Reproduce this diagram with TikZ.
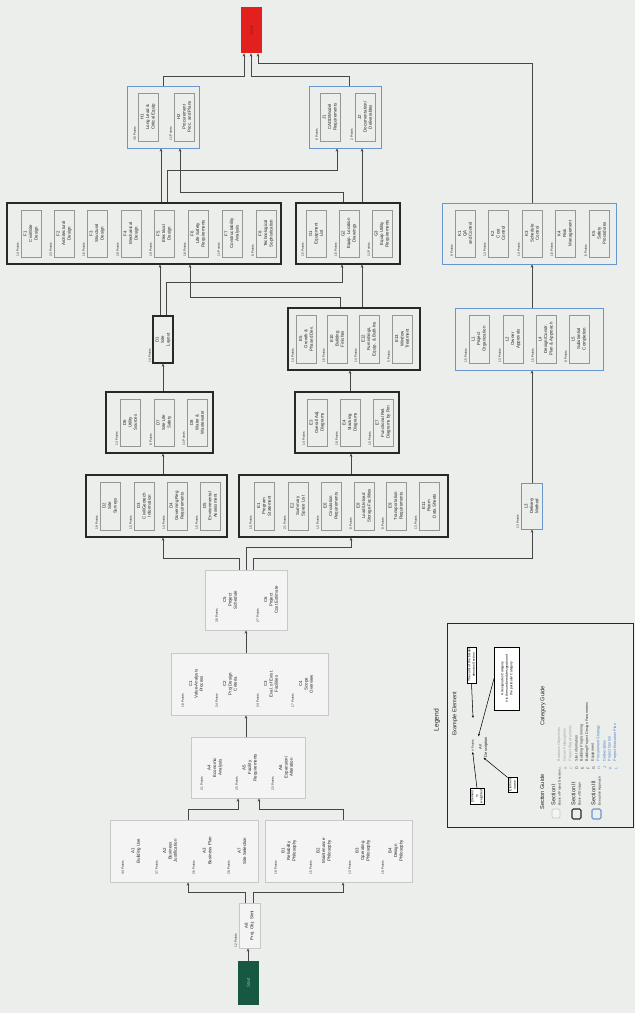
\documentclass[tikz,border=0pt]{standalone}
\usepackage{fontspec}
\setmainfont{Liberation Sans}
\usetikzlibrary{arrows.meta,fit}
\definecolor{bgc}{RGB}{236,238,236}
\definecolor{secIc}{RGB}{200,200,200}
\definecolor{secIf}{RGB}{243,244,243}
\definecolor{secIIc}{RGB}{40,40,40}
\definecolor{secIIIc}{RGB}{105,150,205}
\definecolor{innc}{RGB}{150,150,150}
\definecolor{linec}{RGB}{70,70,70}
\definecolor{txtc}{RGB}{35,35,35}
\definecolor{startc}{RGB}{22,88,66}
\definecolor{startt}{RGB}{120,190,150}
\definecolor{endc}{RGB}{226,32,30}
\definecolor{endt}{RGB}{150,20,20}
\definecolor{catI}{RGB}{160,160,160}
\definecolor{catII}{RGB}{60,60,60}
\definecolor{catIII}{RGB}{70,125,200}
\tikzset{
  lbl/.style={rotate=90, align=center, inner sep=0.3pt, text=txtc, font=\fontsize{3.3}{4.1}\selectfont},
  pts/.style={rotate=90, inner sep=0.3pt, text=txtc, font=\fontsize{2.4}{2.8}\selectfont},
  innerbox/.style={draw=innc, line width=0.3pt},
  nobox/.style={draw=none},
  secI/.style={draw=secIc, fill=secIf, line width=0.5pt, inner sep=0pt},
  secII/.style={draw=secIIc, line width=0.8pt, inner sep=0pt},
  secIII/.style={draw=secIIIc, line width=0.6pt, inner sep=0pt},
  arr/.style={draw=linec, line width=0.45pt, -{Stealth[length=2.4pt,width=2pt]}},
  larr/.style={draw=black, line width=0.4pt, -{Stealth[length=2pt,width=1.6pt]}},
  callout/.style={rotate=90, draw=black, line width=0.5pt, fill=white, align=center, inner sep=0.8pt, font=\fontsize{2.5}{3.3}\selectfont},
  ttl/.style={rotate=90, text=txtc, inner sep=0.3pt, font=\fontsize{4.2}{5}\selectfont},
  cat/.style={rotate=90, inner sep=0.2pt, font=\fontsize{2.8}{3.2}\selectfont},
}
\newcommand{\elem}[7]{%
  \draw[#1] (#2+4,#3) rectangle (#2+24,#4);
  \node[pts, anchor=south west] (#6p) at (#2+2.5,#4) {#5 Points};
  \node[lbl] (#6) at (#2+14,{(#3+#4)/2}) {#6\\#7};
}
\begin{document}
\begin{tikzpicture}[x=0.75pt, y=-0.75pt]
\fill[bgc] (0,0) rectangle (635,1013);
\useasboundingbox (0,0) rectangle (635,1013);

% ---------- outer boxes ----------
\node[fill=startc, inner sep=0pt, fit={(238,961) (259,1005)}] (start) {};
\node[rotate=90, text=startt, font=\fontsize{3.5}{4}\selectfont] (startl) at (start) {Start};
\node[fill=endc, inner sep=0pt, fit={(241,7) (262,53)}] (endbox) {};
\node[rotate=90, text=endt, font=\fontsize{3.5}{4}\selectfont] (endl) at (endbox) {End};

\node[secI, fit={(239,903) (260,948)}] (A8box) {};
\node[secI, fit={(110,820) (258,882)}] (Abox) {};
\node[secI, fit={(265,820) (412,882)}] (Bbox) {};
\node[secI, fit={(191,737) (305,798)}] (ABbox) {};
\node[secI, fit={(171,653) (328,715)}] (Cbox) {};
\node[secI, fit={(205,570) (287,630)}] (C5box) {};

\node[secII, fit={(86,475) (227,537)}] (D2box) {};
\node[secII, fit={(239,475) (448,537)}] (E1box) {};
\node[secII, fit={(106,392) (213,453)}] (D6box) {};
\node[secII, fit={(295,392) (399,453)}] (E3box) {};
\node[secII, fit={(153,316) (173,363)}] (D1box) {};
\node[secII, fit={(288,308) (420,370)}] (E5box) {};
\node[secII, fit={(7,203) (281,264)}] (Fbox) {};
\node[secII, fit={(296,203) (400,264)}] (Gbox) {};

\node[secIII, fit={(521,483) (542,529)}] (L3box) {};
\node[secIII, fit={(455,308) (603,370)}] (Lbox) {};
\node[secIII, fit={(442,203) (616,264)}] (Kbox) {};
\node[secIII, fit={(127,86) (199,148)}] (Hbox) {};
\node[secIII, fit={(309,86) (381,148)}] (Jbox) {};

% ---------- single elements ----------
\node[lbl] (A8) at (249.5,925.5) {A8\\Proj. Obj. Stmt};
\node[pts, anchor=south west] (A8p) at (237.5,948) {12 Points};
\node[lbl] (D1) at (163,339.5) {D1\\Site\\Layout};
\node[pts, anchor=south west] (D1p) at (151.5,363) {14 Points};
\node[lbl] (L3) at (531.5,506) {L3\\Delivery\\Method};
\node[pts, anchor=south west] (L3p) at (519.5,529) {13 Points};

% ---------- Section I ----------
\elem{nobox}{122}{827}{875}{44}{A1}{Building Use}
\elem{nobox}{156}{827}{875}{37}{A2}{Business\\Justification}
\elem{nobox}{193}{827}{875}{26}{A3}{Business Plan}
\elem{nobox}{228}{827}{875}{28}{A7}{Site Selection}
\elem{nobox}{275}{827}{875}{18}{B1}{Reliability\\Philosophy}
\elem{nobox}{310}{827}{875}{15}{B2}{Maintenance\\Philosophy}
\elem{nobox}{349}{827}{875}{13}{B3}{Operating\\Philosophy}
\elem{nobox}{382}{827}{875}{18}{B4}{Design\\Philosophy}
\elem{nobox}{201}{744}{791}{21}{A4}{Economic\\Analysis}
\elem{nobox}{236}{744}{791}{25}{A5}{Facility\\Requirements}
\elem{nobox}{272}{744}{791}{23}{A6}{Expansion/\\Alteration}
\elem{nobox}{182}{660}{708}{18}{C1}{Value-Analysis\\Process}
\elem{nobox}{216}{660}{708}{24}{C2}{Proj Design\\Criteria}
\elem{nobox}{257}{660}{708}{24}{C3}{Eval. of Exist.\\Facilities}
\elem{nobox}{292}{660}{708}{17}{C4}{Scope\\Overview}
\elem{nobox}{216}{577}{623}{30}{C5}{Project\\Schedule}
\elem{nobox}{257}{577}{623}{27}{C6}{Project\\Cost Estimate}

% ---------- Section II ----------
\elem{innerbox}{96}{482}{530}{18}{D2}{Site\\Surveys}
\elem{innerbox}{130}{482}{530}{15}{D3}{Civil/Geotech\\Information}
\elem{innerbox}{163}{482}{530}{14}{D4}{Governing Reg\\Requirements}
\elem{innerbox}{196}{482}{530}{16}{D5}{Environmental\\Assessment}
\elem{innerbox}{250}{482}{530}{16}{E1}{Program\\Statement}
\elem{innerbox}{284}{482}{530}{21}{E2}{Summary\\Space List}
\elem{innerbox}{317}{482}{530}{12}{E6}{Circulation\\Requirements}
\elem{innerbox}{350}{482}{530}{8}{E8}{Load/Unload\\Storage Facilities}
\elem{innerbox}{382}{482}{530}{8}{E9}{Transportation\\Requirements}
\elem{innerbox}{415}{482}{530}{13}{E11}{Room\\Data Sheets}
\elem{innerbox}{116}{399}{446}{13}{D6}{Utility\\Sources}
\elem{innerbox}{150}{399}{446}{8}{D7}{Site Life\\Safety}
\elem{innerbox}{183}{399}{446}{11}{D8}{Water \&\\Wastewater}
\elem{innerbox}{303}{399}{446}{14}{E3}{Overall Adj.\\Diagrams}
\elem{innerbox}{336}{399}{446}{10}{E4}{Stacking\\Diagrams}
\elem{innerbox}{369}{399}{446}{15}{E7}{Functional Rel.\\Diagrams by Rm}
\elem{innerbox}{292}{315}{363}{14}{E5}{Growth \&\\Phased Dev.}
\elem{innerbox}{323}{315}{363}{16}{E10}{Building\\Finishes}
\elem{innerbox}{355}{315}{363}{14}{E12}{Furnishings,\\Equip. \& Built-Ins}
\elem{innerbox}{388}{315}{363}{5}{E13}{Window\\Treatment}
\elem{innerbox}{17}{210}{257}{14}{F1}{Civil/Site\\Design}
\elem{innerbox}{50}{210}{257}{23}{F2}{Architectural\\Design}
\elem{innerbox}{83}{210}{257}{16}{F3}{Structural\\Design}
\elem{innerbox}{117}{210}{257}{20}{F4}{Mechanical\\Design}
\elem{innerbox}{150}{210}{257}{18}{F5}{Electrical\\Design}
\elem{innerbox}{184}{210}{257}{18}{F6}{Life Safety\\Requirements}
\elem{innerbox}{218}{210}{257}{11}{F7}{Constructability\\Analysis}
\elem{innerbox}{252}{210}{257}{8}{F8}{Technological\\Sophistication}
\elem{innerbox}{302}{210}{257}{15}{G1}{Equipment\\List}
\elem{innerbox}{335}{210}{257}{16}{G2}{Equip. Location\\Drawings}
\elem{innerbox}{368}{210}{257}{11}{G3}{Equip Utility\\Requirements}

% ---------- Section III ----------
\elem{innerbox}{465}{315}{363}{15}{L1}{Project\\Organization}
\elem{innerbox}{499}{315}{363}{13}{L2}{Owner\\Approvals}
\elem{innerbox}{532}{315}{363}{15}{L4}{Design/Constr.\\Plan \& Approach}
\elem{innerbox}{565}{315}{363}{8}{L5}{Substantial\\Completion}
\elem{innerbox}{451}{210}{257}{9}{K1}{QA\\and Control}
\elem{innerbox}{484}{210}{257}{13}{K2}{Cost\\Control}
\elem{innerbox}{518}{210}{257}{14}{K3}{Schedule\\Control}
\elem{innerbox}{551}{210}{257}{10}{K4}{Risk\\Management}
\elem{innerbox}{585}{210}{257}{6}{K5}{Safety\\Procedures}
\elem{innerbox}{134}{93}{141}{36}{H1}{Long Lead \&\\Critical Equip}
\elem{innerbox}{170}{93}{141}{11}{H2}{Procurement\\Proc. and Plans}
\elem{innerbox}{316}{93}{141}{6}{J1}{CADD/Model\\Requirements}
\elem{innerbox}{351}{93}{141}{2}{J2}{Documentation/\\Deliverables}

% ---------- connectors ----------
\draw[arr] (248,0 |- start.north) -- (248,0 |- A8box.south);
\draw[arr] (245,0 |- A8box.north) |- (188,892) -- (188,0 |- Abox.south);
\draw[arr] (253,0 |- A8box.north) |- (343,892) -- (343,0 |- Bbox.south);
\draw[arr] (188,0 |- Abox.north) |- (238,809) -- (238,0 |- ABbox.south);
\draw[arr] (343,0 |- Bbox.north) |- (259,809) -- (259,0 |- ABbox.south);
\draw[arr] (246,0 |- ABbox.north) -- (246,0 |- Cbox.south);
\draw[arr] (246,0 |- Cbox.north) -- (246,0 |- C5box.south);
\draw[arr] (239,0 |- C5box.north) |- (163,558) -- (163,0 |- D2box.south);
\draw[arr] (246,0 |- C5box.north) |- (351,547) -- (351,0 |- E1box.south);
\draw[arr] (253,0 |- C5box.north) |- (532,558) -- (532,0 |- L3box.south);
\draw[arr] (163,0 |- D2box.north) -- (163,0 |- D6box.south);
\draw[arr] (163,0 |- D6box.north) -- (163,0 |- D1box.south);
\draw[arr] (160,0 |- D1box.north) -- (160,0 |- Fbox.south);
\draw[arr] (166,0 |- D1box.north) |- (342,282) -- (342,0 |- Gbox.south);
\draw[arr] (351,0 |- E1box.north) -- (351,0 |- E3box.south);
\draw[arr] (350,0 |- E3box.north) -- (350,0 |- E5box.south);
\draw[arr] (340,0 |- E5box.north) |- (190,297) -- (190,0 |- Fbox.south);
\draw[arr] (362,0 |- E5box.north) -- (362,0 |- Gbox.south);
\draw[arr] (532,0 |- L3box.north) -- (532,0 |- Lbox.south);
\draw[arr] (532,0 |- Lbox.north) -- (532,0 |- Kbox.south);
\draw[arr] (161,0 |- Fbox.north) -- (161,0 |- Hbox.south);
\draw[arr] (167,0 |- Fbox.north) |- (337,170) -- (337,0 |- Jbox.south);
\draw[arr] (343,0 |- Gbox.north) |- (180,192) -- (180,0 |- Hbox.south);
\draw[arr] (362,0 |- Gbox.north) -- (362,0 |- Jbox.south);
\draw[arr] (163,0 |- Hbox.north) |- (244,76) -- (244,0 |- endbox.south);
\draw[arr] (349,0 |- Jbox.north) |- (251,76) -- (251,0 |- endbox.south);
\draw[arr] (532,0 |- Kbox.north) |- (258,63) -- (258,0 |- endbox.south);

% ---------- legend ----------
\node[draw=secIIc, line width=0.5pt, inner sep=0pt, fit={(447,623) (633,827)}] (legend) {};
\node[rotate=90, text=txtc, font=\fontsize{5}{6}\selectfont] (legt) at (437,720) {Legend};
\node[ttl] (exel) at (455,714) {Example Element};
\node[pts, anchor=south west] (exp) at (474.5,752) {\# Points};
\node[lbl, font=\fontsize{3}{3.9}\selectfont] (exd) at (483.5,747) {A\#\\Description};
\coordinate (exb) at (473,718);
\node[callout] (co1) at (471.5,665) {The color of the border\\denotes Section};
\node[callout, minimum width=47pt, minimum height=19pt] (co2) at (507,678.5) {A designates Category\\\# is the numbered designation of\\the particular Category};
\node[callout] (co3) at (477,796.5) {Element\\is\\weighted};
\node[callout] (co4) at (512.5,785) {Element\\name};
\draw[larr] (co1.west) -- (exb);
\draw[larr] (co2.north) -- (exd.north east);
\draw[larr] (co3.east) -- (exp.west);
\draw[larr] (co4.north east) -- (exd.west);

\node[ttl] (secg) at (542,792) {Section Guide};
\node[draw=secIc, fill=secIf, line width=0.6pt, rounded corners=1pt, inner sep=0pt, fit={(552,809) (560,818)}] (sw1) {};
\node[draw=secIIc, line width=0.8pt, rounded corners=1pt, inner sep=0pt, fit={(572,809) (581,819)}] (sw2) {};
\node[draw=secIIIc, line width=0.8pt, rounded corners=1pt, inner sep=0pt, fit={(592,809) (601,819)}] (sw3) {};
\node[ttl, anchor=south west] (s1a) at (556,806) {Section I};
\node[pts, anchor=south west] (s1b) at (562,806) {Basis of Project Decision};
\node[ttl, anchor=south west] (s2a) at (576,806) {Section II};
\node[pts, anchor=south west] (s2b) at (582,806) {Basis of Design};
\node[ttl, anchor=south west] (s3a) at (596,806) {Section III};
\node[pts, anchor=south west] (s3b) at (602,806) {Execution Approach};

\node[ttl] (catg) at (543,706) {Category Guide};
\foreach \l/\d/\c [count=\i from 0] in {A/{Business Objectives}/catI, B/{Owner Philosophies}/catI, C/{Project Requirements}/catI, D/{Site Information}/catII, E/{Building Programming}/catII, F/{Building/Project Design Parameters}/catII, G/{Equipment}/catII, H/{Procurement Strategy}/catIII, J/{Deliverables}/catIII, K/{Project Control}/catIII, L/{Project Execution Plan}/catIII} {
  \node[cat, text=\c] (cl\l) at ({560+5.6*\i},768) {\l};
  \node[cat, text=\c, anchor=south west] (cd\l) at ({561.5+5.6*\i},762) {\d};
}
\end{tikzpicture}
\end{document}
